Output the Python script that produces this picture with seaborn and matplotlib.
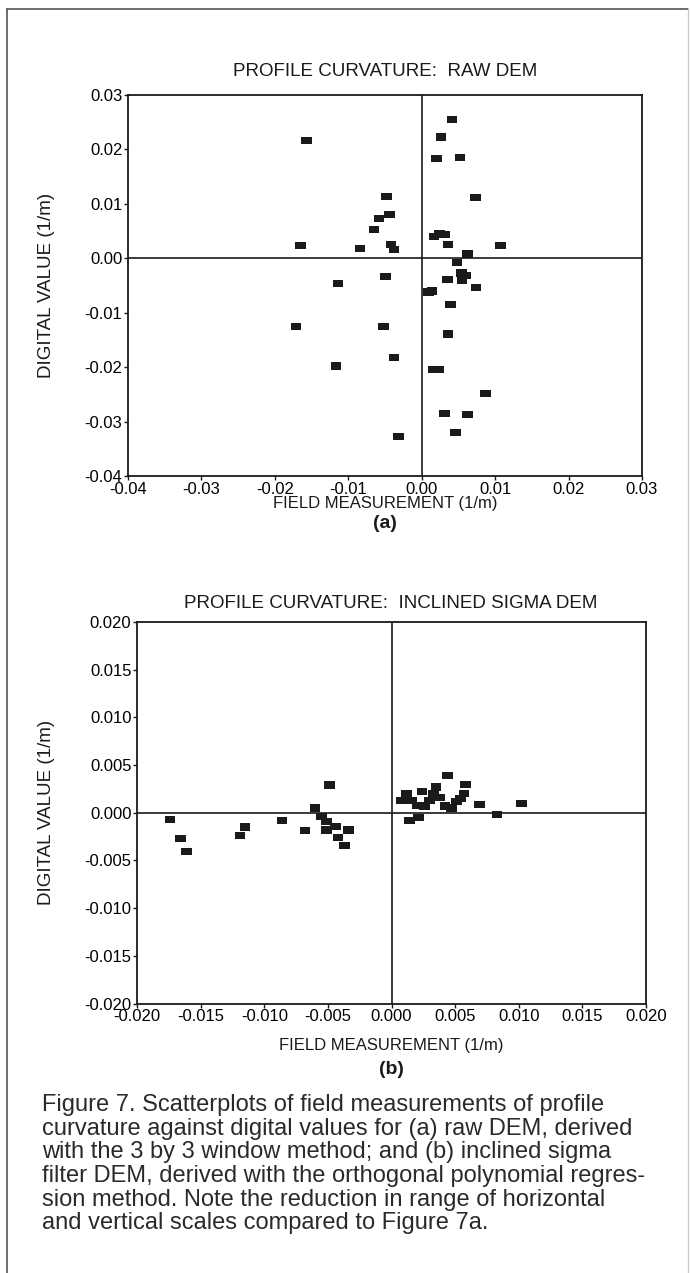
import numpy as np
import pandas as pd
import matplotlib
matplotlib.use("Agg")
import matplotlib.pyplot as plt
from matplotlib.path import Path
from matplotlib.lines import Line2D
import seaborn as sns

# ---- data ----
raw_x = [-0.0157, -0.0058, -0.0065, -0.0165, -0.0084, -0.0114, 0.0041, 0.0026, 0.0020, 0.0052,
         0.0073, -0.0048, -0.0044, 0.0017, 0.0024, 0.0031, 0.0036, 0.0107, 0.0062, -0.0042,
         -0.0038, 0.0048, -0.0049, 0.0054, 0.0060, 0.0055, 0.0035, 0.0074, 0.0014, 0.0009,
         0.0039, 0.0036, 0.0016, 0.0023, 0.0087, 0.0031, 0.0062, 0.0046, -0.0032, -0.0038,
         -0.0052, -0.0171, -0.0117]
raw_y = [0.0216, 0.0073, 0.0053, 0.0023, 0.0018, -0.0046, 0.0255, 0.0223, 0.0184, 0.0185,
         0.0111, 0.0113, 0.0081, 0.0040, 0.0045, 0.0043, 0.0026, 0.0023, 0.0008, 0.0025,
         0.0016, -0.0008, -0.0033, -0.0027, -0.0031, -0.0041, -0.0039, -0.0053, -0.0060, -0.0062,
         -0.0085, -0.0139, -0.0205, -0.0205, -0.0249, -0.0285, -0.0287, -0.0320, -0.0327, -0.0182,
         -0.0126, -0.0126, -0.0198]

sig_x = [-0.00485, -0.0060, -0.0055, -0.0051, -0.0044, -0.0034, -0.0068, -0.0051, -0.0086, -0.0115,
         -0.0174, -0.0166, -0.0161, -0.0119, -0.0042, -0.0037, 0.0044, 0.0058, 0.0057, 0.0035,
         0.0033, 0.0024, 0.0012, 0.0008, 0.0016, 0.0020, 0.0026, 0.0030, 0.0042, 0.0047,
         0.0051, 0.0054, 0.0069, 0.0102, 0.0083, 0.0021, 0.0014, 0.0038]
sig_y = [0.0029, 0.0005, -0.0004, -0.0009, -0.0014, -0.0018, -0.0019, -0.0018, -0.0008, -0.0015,
         -0.0007, -0.0027, -0.0041, -0.0024, -0.0026, -0.0034, 0.0039, 0.0030, 0.0020, 0.0027,
         0.0020, 0.0022, 0.0020, 0.0013, 0.0013, 0.0008, 0.0007, 0.0013, 0.0007, 0.0005,
         0.0012, 0.0015, 0.0009, 0.0010, -0.0002, -0.0005, -0.0008, 0.0016]

raw_ticks = [-0.04, -0.03, -0.02, -0.01, 0.00, 0.01, 0.02, 0.03]
sig_ticks = [-0.020, -0.015, -0.010, -0.005, 0.000, 0.005, 0.010, 0.015, 0.020]

title_a = "PROFILE CURVATURE:  RAW DEM"
title_b = "PROFILE CURVATURE:  INCLINED SIGMA DEM"
xlab = "FIELD MEASUREMENT (1/m)"
ylab = "DIGITAL VALUE (1/m)"
caption = ("Figure 7. Scatterplots of field measurements of profile\n"
           "curvature against digital values for (a) raw DEM, derived\n"
           "with the 3 by 3 window method; and (b) inclined sigma\n"
           "filter DEM, derived with the orthogonal polynomial regres-\n"
           "sion method. Note the reduction in range of horizontal\n"
           "and vertical scales compared to Figure 7a.")

df_raw = pd.DataFrame({"field": raw_x, "digital": raw_y})
df_sig = pd.DataFrame({"field": sig_x, "digital": sig_y})

# ---- style ----
sns.set_style("ticks")
plt.rcParams["font.family"] = ["Liberation Sans", "DejaVu Sans"]
plt.rcParams["axes.unicode_minus"] = False
INK = "#1a1a1a"

rect = Path([(-1, -0.68), (1, -0.68), (1, 0.68), (-1, 0.68), (-1, -0.68)],
            [Path.MOVETO, Path.LINETO, Path.LINETO, Path.LINETO, Path.CLOSEPOLY])

W, H = 691, 1273
fig = plt.figure(figsize=(W / 100, H / 100), dpi=100)
fig.patch.set_facecolor("white")

ax1 = fig.add_axes([128 / W, 1 - 476 / H, 514 / W, 381 / H])
ax2 = fig.add_axes([137 / W, 1 - 1003.5 / H, 509 / W, 381.5 / H])


def style_axes(ax, ticks, fmt, xlab_y, ylab_x):
    ax.set_xticks(ticks)
    ax.set_yticks(ticks)
    ax.set_xticklabels([fmt % t for t in ticks])
    ax.set_yticklabels([fmt % t for t in ticks])
    ax.set_xlim(ticks[0], ticks[-1])
    ax.set_ylim(ticks[0], ticks[-1])
    ax.axhline(0, color=INK, lw=1.2, zorder=1)
    ax.axvline(0, color=INK, lw=1.2, zorder=1)
    for s in ax.spines.values():
        s.set_visible(True)
        s.set_color(INK)
        s.set_linewidth(1.3)
    ax.tick_params(axis="both", direction="out", length=3, width=1.0, color=INK,
                   labelsize=12, labelcolor="black", pad=1)
    ax.set_xlabel(xlab, fontsize=12, color=INK)
    ax.set_ylabel(ylab, fontsize=13.5, color=INK)
    ax.xaxis.set_label_coords(0.5, xlab_y)
    ax.yaxis.set_label_coords(ylab_x, 0.5)
    ax.xaxis.label.set_va("center")
    ax.yaxis.label.set_va("center")
    ax.grid(False)


sns.scatterplot(data=df_raw, x="field", y="digital", ax=ax1, marker=rect, s=58,
                color=INK, edgecolor="none", linewidth=0, zorder=3)
style_axes(ax1, raw_ticks, "%.2f", -0.072, -0.158)

sns.scatterplot(data=df_sig, x="field", y="digital", ax=ax2, marker=rect, s=58,
                color=INK, edgecolor="none", linewidth=0, zorder=3)
style_axes(ax2, sig_ticks, "%.3f", -0.109, -0.177)

# titles and panel letters
fig.text(385 / W, 1 - 72 / H, title_a, ha="center", va="center", fontsize=13.5, color=INK)
fig.text(391 / W, 1 - 604 / H, title_b, ha="center", va="center", fontsize=13.5, color=INK)
fig.text(385 / W, 1 - 524 / H, "(a)", ha="center", va="center", fontsize=14,
         fontweight="bold", color=INK)
fig.text(391 / W, 1 - 1069 / H, "(b)", ha="center", va="center", fontsize=14,
         fontweight="bold", color=INK)

# caption
fig.text(42 / W, 1 - 1094 / H, caption, ha="left", va="top", fontsize=17,
         linespacing=1.1, color="#2a2a2a")

# page frame
fig.add_artist(Line2D([7 / W, 688 / W], [1 - 9 / H, 1 - 9 / H], color="#555555", lw=1.2))
fig.add_artist(Line2D([7 / W, 7 / W], [1 - 9 / H, 0], color="#555555", lw=1.2))
fig.add_artist(Line2D([688 / W, 688 / W], [1 - 9 / H, 0], color="#cccccc", lw=1.0))

fig.savefig("out.png", dpi=100, facecolor="white")
